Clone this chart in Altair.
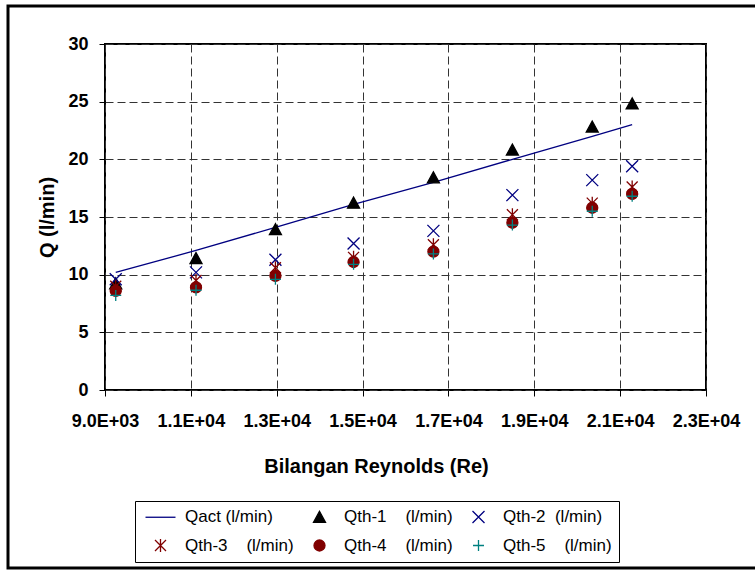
import altair as alt
import pandas as pd

# ---- data ----
re_values = [9250, 11120, 12970, 14790, 16650, 18490, 20350, 21280]
q_act = [10.2, 12.1, 14.1, 16.1, 18.0, 20.0, 22.0, 23.0]
q_th1 = [9.2, 11.4, 13.9, 16.2, 18.4, 20.8, 22.8, 24.8]
q_th2 = [9.6, 10.2, 11.3, 12.7, 13.8, 16.9, 18.2, 19.4]
q_th3 = [9.0, 9.5, 10.6, 11.5, 12.6, 15.2, 16.2, 17.6]
q_th4 = [8.6, 8.9, 9.9, 11.1, 12.0, 14.5, 15.8, 17.0]
q_th5 = [8.2, 8.65, 9.6, 10.9, 11.8, 14.3, 15.5, 16.8]

x_ticks = [9000, 11000, 13000, 15000, 17000, 19000, 21000, 23000]
y_ticks = [0, 5, 10, 15, 20, 25, 30]

NB = "\u00a0"
series_names = [
    "Qact (l/min)",
    "Qth-1" + NB * 4 + "(l/min)",
    "Qth-2" + NB * 2 + "(l/min)",
    "Qth-3" + NB * 4 + "(l/min)",
    "Qth-4" + NB * 4 + "(l/min)",
    "Qth-5" + NB * 4 + "(l/min)",
]
series_colors = ["#000080", "#000000", "#000080", "#800000", "#800000", "#008080"]
series_shapes = [
    "M-3,0L3,0",
    "M0,-1.2L-1.2,1L1.2,1Z",
    "M-1.2,-1.2L1.2,1.2M-1.2,1.2L1.2,-1.2",
    "M-1.1,-1.1L1.1,1.1M-1.1,1.1L1.1,-1.1M0,-1.3L0,1.3",
    "M-1.1,0A1.1,1.1 0 1,0 1.1,0A1.1,1.1 0 1,0 -1.1,0Z",
    "M-1.1,0L1.1,0M0,-1.1L0,1.1",
]

line_df = pd.DataFrame({"Re": re_values, "Q": q_act, "series": series_names[0]})
pts = []
for name, vals in zip(series_names[1:], [q_th1, q_th2, q_th3, q_th4, q_th5]):
    for r, q in zip(re_values, vals):
        pts.append({"Re": r, "Q": q, "series": name})
pts_df = pd.DataFrame(pts)

FONT = "Liberation Sans"

x_enc = alt.X(
    "Re:Q",
    scale=alt.Scale(domain=[9000, 23000], nice=False, zero=False),
    axis=alt.Axis(
        values=x_ticks,
        labelExpr="upper(replace(format(datum.value, '.1e'), 'e+', 'e+0'))",
        title="Bilangan Reynolds (Re)",
        titleX=271,
        titleY=82,
        titleBaseline="alphabetic",
        titleAlign="center",
        labelPadding=16,
    ),
)
y_enc = alt.Y(
    "Q:Q",
    scale=alt.Scale(domain=[0, 30], nice=False),
    axis=alt.Axis(
        values=y_ticks,
        title="Q (l/min)",
        titleX=-52,
        titleY=173,
        titleAngle=270,
        titleBaseline="alphabetic",
        titleAlign="center",
        labelPadding=11,
    ),
)

legend = alt.Legend(
    title=None,
    orient="none",
    legendX=30,
    legendY=457,
    columns=3,
    direction="horizontal",
    strokeColor="black",
    fillColor="white",
    padding=7,
    symbolOffset=10,
    labelOffset=16,
    columnPadding=7,
    rowPadding=10,
    symbolSize=100,
    symbolStrokeWidth=1.3,
    labelFont=FONT,
    labelFontSize=17,
    labelColor="black",
    labelLimit=0,
)

frame = alt.Chart(pd.DataFrame({"a": [0]})).mark_rect(
    fill="transparent", stroke="black", strokeWidth=3
).encode(
    x=alt.value(-97), x2=alt.value(700), y=alt.value(-38), y2=alt.value(524)
)

line = alt.Chart(line_df).mark_line(color="#000080", strokeWidth=1.3).encode(
    x=x_enc, y=y_enc
)

points = alt.Chart(pts_df).mark_point(
    filled=True, size=100, strokeWidth=1.3, opacity=1
).encode(
    x="Re:Q",
    y="Q:Q",
    color=alt.Color(
        "series:N",
        scale=alt.Scale(domain=series_names, range=series_colors),
        legend=legend,
    ),
    stroke=alt.Stroke(
        "series:N",
        scale=alt.Scale(domain=series_names, range=series_colors),
        legend=legend,
    ),
    shape=alt.Shape(
        "series:N",
        scale=alt.Scale(domain=series_names, range=series_shapes),
        legend=legend,
    ),
)

chart = alt.layer(frame, line, points).properties(
    width=601,
    height=346,
    autosize=alt.AutoSizeParams(type="none"),
    padding={"left": 105, "top": 44, "right": 49, "bottom": 180},
    background="white",
).configure_view(
    stroke="black", strokeWidth=2
).configure_axis(
    labelFont=FONT,
    labelFontSize=18,
    labelFontWeight="bold",
    labelColor="black",
    labelOverlap=False,
    labelFlush=False,
    titleFont=FONT,
    titleFontSize=20,
    titleFontWeight="bold",
    titleColor="black",
    domain=False,
    tickColor="black",
    tickSize=6,
    tickWidth=1,
    grid=True,
    gridColor="#333333",
    gridDash=[8, 4],
    gridWidth=1,
    gridOpacity=1,
)

chart.save("out.html", embed_options={"renderer": "svg", "actions": False})
